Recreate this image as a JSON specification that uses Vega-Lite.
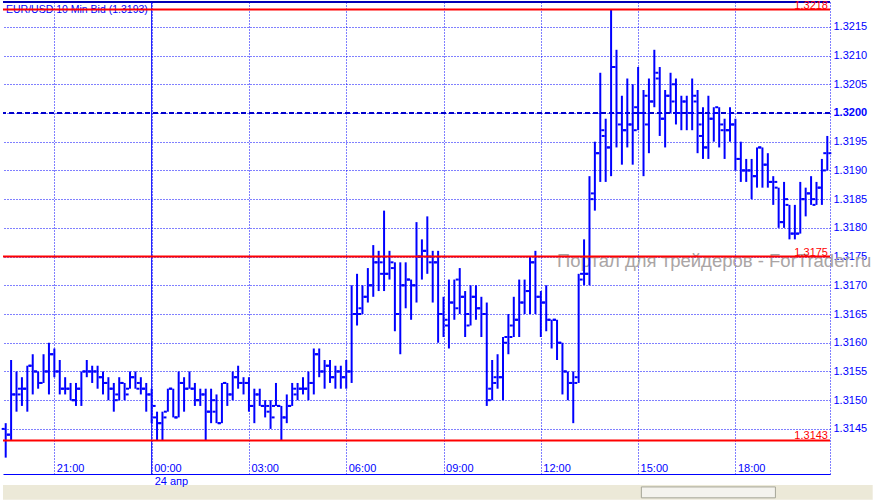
{
"$schema": "https://vega.github.io/schema/vega-lite/v6.json",
"width": 876,
"height": 502,
"autosize": {"type": "fit", "contains": "padding"},
"padding": {"left": 0, "top": 0, "right": 0, "bottom": 0},
"background": "#ffffff",
"config": {"view": {"stroke": null}, "axis": {"labelOverlap": false}},
"layer": [
{
"data": {"values": [{}]},
"mark": {"type": "rect", "fill": "#ece9d8"},
"encoding": {
"x": {"datum": 1335209100000, "type": "temporal"},
"x2": {"datum": 1335305640000},
"y": {"datum": 1.313525, "type": "quantitative"},
"y2": {"datum": 1.313265}
}
},
{
"data": {"values": [{}]},
"mark": {"type": "rect", "fill": "#f4f3ee", "stroke": "#a5a597", "strokeWidth": 1},
"encoding": {
"x": {"datum": 1335279960000, "type": "temporal"},
"x2": {"datum": 1335294840000},
"y": {"datum": 1.31349, "type": "quantitative"},
"y2": {"datum": 1.3133}
}
},
{
"data": {"values": [{}]},
"mark": {"type": "text", "text": "Портал для трейдеров - ForTrader.ru", "align": "left", "baseline": "middle", "fontSize": 18.5, "font": "Liberation Sans", "color": "#aaa5a5"},
"encoding": {
"x": {"datum": 1335270600000, "type": "temporal"},
"y": {"datum": 1.31742, "type": "quantitative"}
}
},
{
"data": {"values": [{}]},
"mark": {"type": "text", "text": "24 апр", "align": "left", "baseline": "middle", "dx": 3, "fontSize": 11, "font": "Liberation Sans", "color": "#0000ff"},
"encoding": {
"x": {"datum": 1335225600000, "type": "temporal"},
"y": {"datum": 1.313577, "type": "quantitative"}
}
},
{
"data": {"values": [{}]},
"mark": {"type": "text", "text": "EUR/USD 10 Min Bid (1.3193)", "align": "left", "baseline": "alphabetic", "dx": 3, "fontSize": 10.5, "font": "Liberation Sans", "color": "#0000ff"},
"encoding": {
"x": {"datum": 1335209100000, "type": "temporal"},
"y": {"datum": 1.321742, "type": "quantitative"}
}
},
{
"data": {"values": [{"p": 1.32}]},
"mark": {"type": "rule", "color": "#0000cc", "strokeWidth": 2, "strokeDash": [5, 3]},
"encoding": {"y": {"field": "p", "type": "quantitative"}}
},
{
"data": {"values": [{"p": 1.321932}]},
"mark": {"type": "rule", "color": "#0000b4", "strokeWidth": 2},
"encoding": {"y": {"field": "p", "type": "quantitative"}}
},
{
"data": {"values": [{}]},
"mark": {"type": "rule", "color": "#0000ff", "strokeWidth": 1},
"encoding": {"x": {"datum": 1335225600000, "type": "temporal"}}
},
{
"data": {"values": [
{"t":"2012-04-23T19:30:00Z","o":1.3145,"h":1.3146,"l":1.3140,"c":1.3144},
{"t":"2012-04-23T19:40:00Z","o":1.3144,"h":1.3157,"l":1.3143,"c":1.3151},
{"t":"2012-04-23T19:50:00Z","o":1.3151,"h":1.3155,"l":1.3148,"c":1.3151},
{"t":"2012-04-23T20:00:00Z","o":1.3152,"h":1.3154,"l":1.3149,"c":1.3152},
{"t":"2012-04-23T20:10:00Z","o":1.3152,"h":1.3156,"l":1.3148,"c":1.3156},
{"t":"2012-04-23T20:20:00Z","o":1.3156,"h":1.3158,"l":1.3151,"c":1.3155},
{"t":"2012-04-23T20:30:00Z","o":1.3155,"h":1.3155,"l":1.3152,"c":1.3153},
{"t":"2012-04-23T20:40:00Z","o":1.3153,"h":1.3158,"l":1.3153,"c":1.3155},
{"t":"2012-04-23T20:50:00Z","o":1.3155,"h":1.3160,"l":1.3151,"c":1.3158},
{"t":"2012-04-23T21:00:00Z","o":1.3158,"h":1.3159,"l":1.3154,"c":1.3155},
{"t":"2012-04-23T21:10:00Z","o":1.3155,"h":1.3157,"l":1.3151,"c":1.3152},
{"t":"2012-04-23T21:20:00Z","o":1.3152,"h":1.3154,"l":1.3151,"c":1.3152},
{"t":"2012-04-23T21:30:00Z","o":1.3152,"h":1.3153,"l":1.3150,"c":1.3150},
{"t":"2012-04-23T21:40:00Z","o":1.3150,"h":1.3153,"l":1.3149,"c":1.3152},
{"t":"2012-04-23T21:50:00Z","o":1.3152,"h":1.3155,"l":1.3149,"c":1.3155},
{"t":"2012-04-23T22:00:00Z","o":1.3155,"h":1.3157,"l":1.3154,"c":1.3155},
{"t":"2012-04-23T22:10:00Z","o":1.3155,"h":1.3156,"l":1.3153,"c":1.3155},
{"t":"2012-04-23T22:20:00Z","o":1.3155,"h":1.3156,"l":1.3152,"c":1.3154},
{"t":"2012-04-23T22:30:00Z","o":1.3154,"h":1.3155,"l":1.3151,"c":1.3153},
{"t":"2012-04-23T22:40:00Z","o":1.3153,"h":1.3154,"l":1.3150,"c":1.3152},
{"t":"2012-04-23T22:50:00Z","o":1.3152,"h":1.3153,"l":1.3148,"c":1.3150},
{"t":"2012-04-23T23:00:00Z","o":1.3151,"h":1.3154,"l":1.3150,"c":1.3153},
{"t":"2012-04-23T23:10:00Z","o":1.3153,"h":1.3153,"l":1.3150,"c":1.3151},
{"t":"2012-04-23T23:20:00Z","o":1.3152,"h":1.3155,"l":1.3152,"c":1.3154},
{"t":"2012-04-23T23:30:00Z","o":1.3154,"h":1.3155,"l":1.3152,"c":1.3152},
{"t":"2012-04-23T23:40:00Z","o":1.3153,"h":1.3154,"l":1.3151,"c":1.3152},
{"t":"2012-04-23T23:50:00Z","o":1.3152,"h":1.3153,"l":1.3148,"c":1.3151},
{"t":"2012-04-24T00:00:00Z","o":1.3151,"h":1.3152,"l":1.3146,"c":1.3149},
{"t":"2012-04-24T00:10:00Z","o":1.3147,"h":1.3148,"l":1.3143,"c":1.3146},
{"t":"2012-04-24T00:20:00Z","o":1.3146,"h":1.3148,"l":1.3143,"c":1.3147},
{"t":"2012-04-24T00:30:00Z","o":1.3148,"h":1.3152,"l":1.3148,"c":1.3152},
{"t":"2012-04-24T00:40:00Z","o":1.3152,"h":1.3152,"l":1.3147,"c":1.3147},
{"t":"2012-04-24T00:50:00Z","o":1.3147,"h":1.3155,"l":1.3147,"c":1.3153},
{"t":"2012-04-24T01:00:00Z","o":1.3153,"h":1.3154,"l":1.3148,"c":1.3152},
{"t":"2012-04-24T01:10:00Z","o":1.3152,"h":1.3155,"l":1.3152,"c":1.3152},
{"t":"2012-04-24T01:20:00Z","o":1.3152,"h":1.3153,"l":1.3149,"c":1.3150},
{"t":"2012-04-24T01:30:00Z","o":1.3150,"h":1.3152,"l":1.3149,"c":1.3151},
{"t":"2012-04-24T01:40:00Z","o":1.3151,"h":1.3152,"l":1.3143,"c":1.3148},
{"t":"2012-04-24T01:50:00Z","o":1.3148,"h":1.3152,"l":1.3146,"c":1.3150},
{"t":"2012-04-24T02:00:00Z","o":1.3148,"h":1.3151,"l":1.3146,"c":1.3146},
{"t":"2012-04-24T02:10:00Z","o":1.3146,"h":1.3153,"l":1.3146,"c":1.3153},
{"t":"2012-04-24T02:20:00Z","o":1.3153,"h":1.3153,"l":1.3149,"c":1.3151},
{"t":"2012-04-24T02:30:00Z","o":1.3151,"h":1.3155,"l":1.3150,"c":1.3154},
{"t":"2012-04-24T02:40:00Z","o":1.3154,"h":1.3156,"l":1.3152,"c":1.3153},
{"t":"2012-04-24T02:50:00Z","o":1.3153,"h":1.3154,"l":1.3151,"c":1.3153},
{"t":"2012-04-24T03:00:00Z","o":1.3153,"h":1.3154,"l":1.3148,"c":1.3149},
{"t":"2012-04-24T03:10:00Z","o":1.3149,"h":1.3152,"l":1.3146,"c":1.3151},
{"t":"2012-04-24T03:20:00Z","o":1.3151,"h":1.3152,"l":1.3149,"c":1.3149},
{"t":"2012-04-24T03:30:00Z","o":1.3149,"h":1.3150,"l":1.3147,"c":1.3149},
{"t":"2012-04-24T03:40:00Z","o":1.3148,"h":1.3150,"l":1.3145,"c":1.3147},
{"t":"2012-04-24T03:50:00Z","o":1.3149,"h":1.3153,"l":1.3149,"c":1.3149},
{"t":"2012-04-24T04:00:00Z","o":1.3149,"h":1.3149,"l":1.3143,"c":1.3147},
{"t":"2012-04-24T04:10:00Z","o":1.3147,"h":1.3151,"l":1.3146,"c":1.3149},
{"t":"2012-04-24T04:20:00Z","o":1.3149,"h":1.3153,"l":1.3149,"c":1.3152},
{"t":"2012-04-24T04:30:00Z","o":1.3151,"h":1.3153,"l":1.3150,"c":1.3152},
{"t":"2012-04-24T04:40:00Z","o":1.3152,"h":1.3154,"l":1.3151,"c":1.3152},
{"t":"2012-04-24T04:50:00Z","o":1.3152,"h":1.3155,"l":1.3150,"c":1.3153},
{"t":"2012-04-24T05:00:00Z","o":1.3153,"h":1.3159,"l":1.3151,"c":1.3158},
{"t":"2012-04-24T05:10:00Z","o":1.3158,"h":1.3159,"l":1.3154,"c":1.3155},
{"t":"2012-04-24T05:20:00Z","o":1.3155,"h":1.3157,"l":1.3152,"c":1.3156},
{"t":"2012-04-24T05:30:00Z","o":1.3156,"h":1.3157,"l":1.3153,"c":1.3154},
{"t":"2012-04-24T05:40:00Z","o":1.3154,"h":1.3156,"l":1.3152,"c":1.3155},
{"t":"2012-04-24T05:50:00Z","o":1.3155,"h":1.3156,"l":1.3152,"c":1.3154},
{"t":"2012-04-24T06:00:00Z","o":1.3154,"h":1.3157,"l":1.3152,"c":1.3155},
{"t":"2012-04-24T06:10:00Z","o":1.3155,"h":1.3170,"l":1.3153,"c":1.3165},
{"t":"2012-04-24T06:20:00Z","o":1.3165,"h":1.3172,"l":1.3163,"c":1.3165},
{"t":"2012-04-24T06:30:00Z","o":1.3166,"h":1.3170,"l":1.3165,"c":1.3168},
{"t":"2012-04-24T06:40:00Z","o":1.3168,"h":1.3173,"l":1.3167,"c":1.3170},
{"t":"2012-04-24T06:50:00Z","o":1.3170,"h":1.3177,"l":1.3168,"c":1.3174},
{"t":"2012-04-24T07:00:00Z","o":1.3174,"h":1.3176,"l":1.3169,"c":1.3174},
{"t":"2012-04-24T07:10:00Z","o":1.3172,"h":1.3183,"l":1.3169,"c":1.3172},
{"t":"2012-04-24T07:20:00Z","o":1.3172,"h":1.3176,"l":1.3171,"c":1.3174},
{"t":"2012-04-24T07:30:00Z","o":1.3173,"h":1.3174,"l":1.3162,"c":1.3165},
{"t":"2012-04-24T07:40:00Z","o":1.3165,"h":1.3174,"l":1.3158,"c":1.3170},
{"t":"2012-04-24T07:50:00Z","o":1.3170,"h":1.3174,"l":1.3166,"c":1.3171},
{"t":"2012-04-24T08:00:00Z","o":1.3171,"h":1.3171,"l":1.3164,"c":1.3170},
{"t":"2012-04-24T08:10:00Z","o":1.3170,"h":1.3181,"l":1.3167,"c":1.3175},
{"t":"2012-04-24T08:20:00Z","o":1.3175,"h":1.3178,"l":1.3171,"c":1.3176},
{"t":"2012-04-24T08:30:00Z","o":1.3176,"h":1.3182,"l":1.3172,"c":1.3175},
{"t":"2012-04-24T08:40:00Z","o":1.3174,"h":1.3176,"l":1.3167,"c":1.3174},
{"t":"2012-04-24T08:50:00Z","o":1.3174,"h":1.3176,"l":1.3160,"c":1.3165},
{"t":"2012-04-24T09:00:00Z","o":1.3165,"h":1.3168,"l":1.3161,"c":1.3164},
{"t":"2012-04-24T09:10:00Z","o":1.3163,"h":1.3171,"l":1.3159,"c":1.3167},
{"t":"2012-04-24T09:20:00Z","o":1.3167,"h":1.3171,"l":1.3164,"c":1.3166},
{"t":"2012-04-24T09:30:00Z","o":1.3171,"h":1.3173,"l":1.3165,"c":1.3168},
{"t":"2012-04-24T09:40:00Z","o":1.3168,"h":1.3169,"l":1.3161,"c":1.3165},
{"t":"2012-04-24T09:50:00Z","o":1.3163,"h":1.3170,"l":1.3163,"c":1.3168},
{"t":"2012-04-24T10:00:00Z","o":1.3168,"h":1.3170,"l":1.3164,"c":1.3166},
{"t":"2012-04-24T10:10:00Z","o":1.3166,"h":1.3168,"l":1.3161,"c":1.3165},
{"t":"2012-04-24T10:20:00Z","o":1.3165,"h":1.3167,"l":1.3149,"c":1.3150},
{"t":"2012-04-24T10:30:00Z","o":1.3152,"h":1.3157,"l":1.3150,"c":1.3153},
{"t":"2012-04-24T10:40:00Z","o":1.3154,"h":1.3158,"l":1.3152,"c":1.3154},
{"t":"2012-04-24T10:50:00Z","o":1.3154,"h":1.3161,"l":1.3150,"c":1.3160},
{"t":"2012-04-24T11:00:00Z","o":1.3161,"h":1.3165,"l":1.3158,"c":1.3161},
{"t":"2012-04-24T11:10:00Z","o":1.3163,"h":1.3168,"l":1.3161,"c":1.3164},
{"t":"2012-04-24T11:20:00Z","o":1.3164,"h":1.3171,"l":1.3161,"c":1.3167},
{"t":"2012-04-24T11:30:00Z","o":1.3167,"h":1.3171,"l":1.3165,"c":1.3169},
{"t":"2012-04-24T11:40:00Z","o":1.3169,"h":1.3175,"l":1.3165,"c":1.3174},
{"t":"2012-04-24T11:50:00Z","o":1.3174,"h":1.3176,"l":1.3165,"c":1.3168},
{"t":"2012-04-24T12:00:00Z","o":1.3168,"h":1.3169,"l":1.3161,"c":1.3167},
{"t":"2012-04-24T12:10:00Z","o":1.3167,"h":1.3170,"l":1.3162,"c":1.3164},
{"t":"2012-04-24T12:20:00Z","o":1.3164,"h":1.3164,"l":1.3159,"c":1.3164},
{"t":"2012-04-24T12:30:00Z","o":1.3164,"h":1.3164,"l":1.3157,"c":1.3160},
{"t":"2012-04-24T12:40:00Z","o":1.3160,"h":1.3160,"l":1.3151,"c":1.3155},
{"t":"2012-04-24T12:50:00Z","o":1.3155,"h":1.3155,"l":1.3150,"c":1.3153},
{"t":"2012-04-24T13:00:00Z","o":1.3153,"h":1.3155,"l":1.3146,"c":1.3153},
{"t":"2012-04-24T13:10:00Z","o":1.3154,"h":1.3172,"l":1.3153,"c":1.3171},
{"t":"2012-04-24T13:20:00Z","o":1.3172,"h":1.3178,"l":1.3170,"c":1.3172},
{"t":"2012-04-24T13:30:00Z","o":1.3172,"h":1.3189,"l":1.3170,"c":1.3185},
{"t":"2012-04-24T13:40:00Z","o":1.3186,"h":1.3195,"l":1.3183,"c":1.3193},
{"t":"2012-04-24T13:50:00Z","o":1.3193,"h":1.3207,"l":1.3188,"c":1.3197},
{"t":"2012-04-24T14:00:00Z","o":1.3196,"h":1.3199,"l":1.3188,"c":1.3194},
{"t":"2012-04-24T14:10:00Z","o":1.3194,"h":1.3218,"l":1.3189,"c":1.3208},
{"t":"2012-04-24T14:20:00Z","o":1.3208,"h":1.3211,"l":1.3194,"c":1.3200},
{"t":"2012-04-24T14:30:00Z","o":1.3198,"h":1.3203,"l":1.3191,"c":1.3197},
{"t":"2012-04-24T14:40:00Z","o":1.3197,"h":1.3206,"l":1.3194,"c":1.3198},
{"t":"2012-04-24T14:50:00Z","o":1.3198,"h":1.3205,"l":1.3191,"c":1.3197},
{"t":"2012-04-24T15:00:00Z","o":1.3201,"h":1.3208,"l":1.3197,"c":1.3200},
{"t":"2012-04-24T15:10:00Z","o":1.3200,"h":1.3204,"l":1.3189,"c":1.3203},
{"t":"2012-04-24T15:20:00Z","o":1.3198,"h":1.3206,"l":1.3193,"c":1.3202},
{"t":"2012-04-24T15:30:00Z","o":1.3202,"h":1.3211,"l":1.3201,"c":1.3207},
{"t":"2012-04-24T15:40:00Z","o":1.3206,"h":1.3208,"l":1.3196,"c":1.3199},
{"t":"2012-04-24T15:50:00Z","o":1.3199,"h":1.3204,"l":1.3194,"c":1.3203},
{"t":"2012-04-24T16:00:00Z","o":1.3203,"h":1.3207,"l":1.3200,"c":1.3202},
{"t":"2012-04-24T16:10:00Z","o":1.3205,"h":1.3206,"l":1.3198,"c":1.3200},
{"t":"2012-04-24T16:20:00Z","o":1.3200,"h":1.3203,"l":1.3197,"c":1.3202},
{"t":"2012-04-24T16:30:00Z","o":1.3202,"h":1.3203,"l":1.3197,"c":1.3200},
{"t":"2012-04-24T16:40:00Z","o":1.3200,"h":1.3206,"l":1.3197,"c":1.3203},
{"t":"2012-04-24T16:50:00Z","o":1.3202,"h":1.3204,"l":1.3193,"c":1.3198},
{"t":"2012-04-24T17:00:00Z","o":1.3196,"h":1.3201,"l":1.3192,"c":1.3194},
{"t":"2012-04-24T17:10:00Z","o":1.3194,"h":1.3203,"l":1.3192,"c":1.3199},
{"t":"2012-04-24T17:20:00Z","o":1.3199,"h":1.3201,"l":1.3195,"c":1.3200},
{"t":"2012-04-24T17:30:00Z","o":1.3201,"h":1.3201,"l":1.3194,"c":1.3198},
{"t":"2012-04-24T17:40:00Z","o":1.3197,"h":1.3199,"l":1.3192,"c":1.3197},
{"t":"2012-04-24T17:50:00Z","o":1.3197,"h":1.3201,"l":1.3195,"c":1.3198},
{"t":"2012-04-24T18:00:00Z","o":1.3198,"h":1.3199,"l":1.3190,"c":1.3192},
{"t":"2012-04-24T18:10:00Z","o":1.3192,"h":1.3195,"l":1.3188,"c":1.3190},
{"t":"2012-04-24T18:20:00Z","o":1.3190,"h":1.3192,"l":1.3188,"c":1.3190},
{"t":"2012-04-24T18:30:00Z","o":1.3190,"h":1.3192,"l":1.3185,"c":1.3189},
{"t":"2012-04-24T18:40:00Z","o":1.3189,"h":1.3194,"l":1.3187,"c":1.3194},
{"t":"2012-04-24T18:50:00Z","o":1.3194,"h":1.3194,"l":1.3187,"c":1.3191},
{"t":"2012-04-24T19:00:00Z","o":1.3191,"h":1.3193,"l":1.3187,"c":1.3188},
{"t":"2012-04-24T19:10:00Z","o":1.3188,"h":1.3189,"l":1.3184,"c":1.3188},
{"t":"2012-04-24T19:20:00Z","o":1.3187,"h":1.3187,"l":1.3180,"c":1.3181},
{"t":"2012-04-24T19:30:00Z","o":1.3181,"h":1.3188,"l":1.3180,"c":1.3185},
{"t":"2012-04-24T19:40:00Z","o":1.3184,"h":1.3184,"l":1.3178,"c":1.3179},
{"t":"2012-04-24T19:50:00Z","o":1.3179,"h":1.3184,"l":1.3178,"c":1.3179},
{"t":"2012-04-24T20:00:00Z","o":1.3179,"h":1.3188,"l":1.3179,"c":1.3185},
{"t":"2012-04-24T20:10:00Z","o":1.3185,"h":1.3187,"l":1.3182,"c":1.3186},
{"t":"2012-04-24T20:20:00Z","o":1.3186,"h":1.3189,"l":1.3184,"c":1.3185},
{"t":"2012-04-24T20:30:00Z","o":1.3184,"h":1.3188,"l":1.3184,"c":1.3187},
{"t":"2012-04-24T20:40:00Z","o":1.3187,"h":1.3192,"l":1.3184,"c":1.3190},
{"t":"2012-04-24T20:50:00Z","o":1.3193,"h":1.3196,"l":1.3190,"c":1.3193}
]},
"encoding": {
"x": {"field": "t", "type": "temporal", "scale": {"type": "utc", "domain": [1335209100000, 1335300900000], "nice": false},
"axis": {"orient": "bottom", "title": null, "values": [1335214800000, 1335225600000, 1335236400000, 1335247200000, 1335258000000, 1335268800000, 1335279600000, 1335290400000], "tickCount": 40, "format": "%H:%M", "labelAlign": "left", "labelBaseline": "top", "labelOffset": 2, "labelPadding": -12, "labelFlush": false, "labelOverlap": false, "labelColor": "#0000ff", "labelFont": "Liberation Sans", "labelFontSize": 11, "ticks": false, "domain": true, "domainColor": "#0000ff", "grid": true, "gridColor": "#0000ff", "gridDash": [1, 2], "gridOpacity": 1}}
},
"layer": [
{"mark": {"type": "rule", "color": "#0000ff", "strokeWidth": 2},
"encoding": {
"y": {"field": "l", "type": "quantitative", "scale": {"domain": [1.313715, 1.321932], "nice": false, "zero": false},
"axis": {"orient": "right", "title": null, "values": [1.3145, 1.315, 1.3155, 1.316, 1.3165, 1.317, 1.3175, 1.318, 1.3185, 1.319, 1.3195, 1.32, 1.3205, 1.321, 1.3215], "tickCount": 40, "format": ".4f", "labelAlign": "left", "labelPadding": 3, "labelColor": "#0000ff", "labelFont": "Liberation Sans", "labelFontSize": 11, "labelFontWeight": {"condition": {"test": "abs(datum.value - 1.32) < 0.00001", "value": "bold"}, "value": "normal"}, "labelFlush": false, "labelOverlap": false, "labelSeparation": 0, "ticks": false, "domain": true, "domainColor": "#0000ff", "domainDash": [1, 2], "grid": true, "gridColor": "#0000ff", "gridDash": [1, 2], "gridOpacity": 1}},
"y2": {"field": "h"}
}},
{"mark": {"type": "rule", "color": "#0000ff", "strokeWidth": 2, "xOffset": -4, "x2Offset": -1},
"encoding": {"x2": {"field": "t"}, "y": {"field": "o", "type": "quantitative"}}},
{"mark": {"type": "rule", "color": "#0000ff", "strokeWidth": 2, "xOffset": 1, "x2Offset": 4},
"encoding": {"x2": {"field": "t"}, "y": {"field": "c", "type": "quantitative"}}}
]
},
{
"data": {"values": [{"p": 1.3218}, {"p": 1.3175}, {"p": 1.3143}]},
"layer": [
{"mark": {"type": "rule", "color": "#ff0000", "strokeWidth": 2},
"encoding": {"y": {"field": "p", "type": "quantitative"}}},
{"mark": {"type": "text", "color": "#ff0000", "align": "right", "baseline": "alphabetic", "dx": -2, "dy": -1, "fontSize": 11, "font": "Liberation Sans"},
"encoding": {"x": {"datum": 1335300900000, "type": "temporal"}, "y": {"field": "p", "type": "quantitative"}, "text": {"field": "p", "type": "quantitative", "format": ".4f"}}}
]
}
]
}
